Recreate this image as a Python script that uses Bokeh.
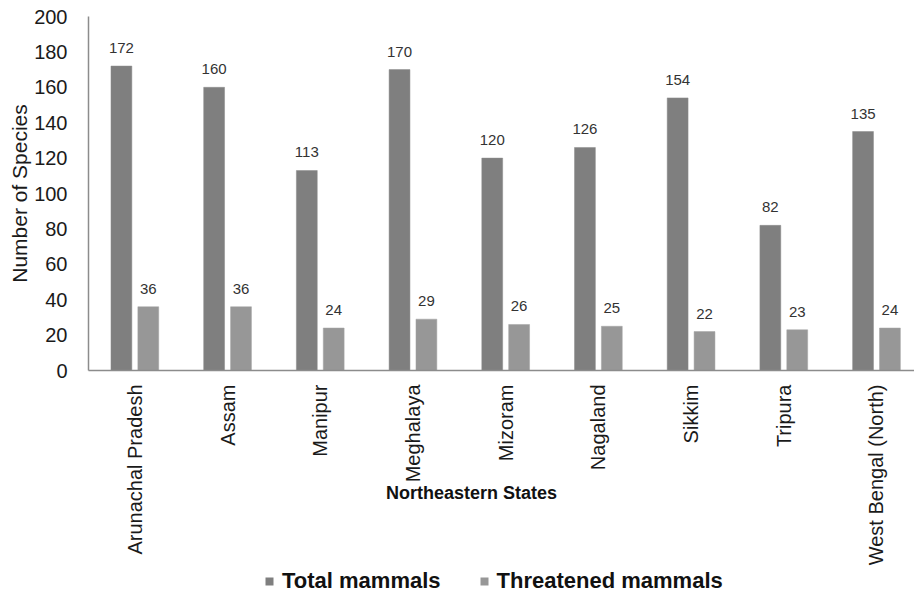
import math
from bokeh.plotting import figure
from bokeh.layouts import column
from bokeh.models import (Range1d, FixedTicker, Legend, LegendItem,
                          ColumnDataSource)
from bokeh.core.properties import value
from bokeh.embed import file_html
from bokeh.resources import INLINE

states = ["Arunachal Pradesh", "Assam", "Manipur", "Meghalaya", "Mizoram",
          "Nagaland", "Sikkim", "Tripura", "West Bengal (North)"]
total_mammals = [172, 160, 113, 170, 120, 126, 154, 82, 135]
threatened_mammals = [36, 36, 24, 29, 26, 25, 22, 23, 24]
y_ticks = [0, 20, 40, 60, 80, 100, 120, 140, 160, 180, 200]

FONT = "Liberation Sans"
C_TOTAL = "#7f7f7f"
C_THREAT = "#979797"
idx = list(range(len(states)))
off = 0.145
bw = 0.225

src_t = ColumnDataSource(dict(x=[i - off for i in idx], top=total_mammals,
                              lab=[str(v) for v in total_mammals]))
src_h = ColumnDataSource(dict(x=[i + off for i in idx], top=threatened_mammals,
                              lab=[str(v) for v in threatened_mammals]))

p = figure(frame_width=826, frame_height=354, output_backend="svg",
           toolbar_location=None, x_range=Range1d(-0.5, 8.41),
           y_range=Range1d(0, 200), min_border_left=88, min_border_top=16,
           min_border_right=0, min_border_bottom=196)
p.outline_line_color = None
p.grid.visible = False

p.vbar(x="x", top="top", width=bw, source=src_t, fill_color=C_TOTAL,
       line_color="#8a8a8a", line_width=0.5)
p.vbar(x="x", top="top", width=bw, source=src_h, fill_color=C_THREAT,
       line_color="#a2a2a2", line_width=0.5)

for s in (src_t, src_h):
    p.text(x="x", y="top", text="lab", source=s, text_align="center",
           text_baseline="alphabetic", y_offset=-18, text_font=value(FONT),
           text_font_size="15px", text_color="#333333")

# axes
p.yaxis.ticker = FixedTicker(ticks=y_ticks)
p.yaxis.axis_label = "Number of Species"
p.yaxis.axis_label_text_font = FONT
p.yaxis.axis_label_text_font_style = "normal"
p.yaxis.axis_label_text_font_size = "21px"
p.yaxis.axis_label_text_color = "#1a1a1a"
p.yaxis.axis_label_standoff = 0
p.yaxis.major_label_text_font = FONT
p.yaxis.major_label_text_font_size = "20px"
p.yaxis.major_label_text_color = "#1a1a1a"
p.yaxis.major_label_standoff = 15
p.yaxis.major_tick_line_color = None
p.yaxis.minor_tick_line_color = None
p.yaxis.axis_line_color = "#8c8c8c"
p.yaxis.axis_line_width = 1.5

p.xaxis.ticker = FixedTicker(ticks=idx)
p.xaxis.major_label_overrides = {i: s for i, s in zip(idx, states)}
p.xaxis.major_label_orientation = math.pi / 2
p.xaxis.major_label_text_font = FONT
p.xaxis.major_label_text_font_size = "20px"
p.xaxis.major_label_text_color = "#1a1a1a"
p.xaxis.major_label_standoff = 8
p.xaxis.major_tick_line_color = None
p.xaxis.minor_tick_line_color = None
p.xaxis.axis_line_color = "#8c8c8c"
p.xaxis.axis_line_width = 1.5
p.xaxis.axis_label = "Northeastern States" + "\u00a0" * 12
p.xaxis.axis_label_text_font = FONT
p.xaxis.axis_label_text_font_style = "bold"
p.xaxis.axis_label_text_font_size = "18px"
p.xaxis.axis_label_text_color = "#111111"
p.xaxis.axis_label_standoff = -85

# legend strip
lf = figure(width=914, height=30, output_backend="svg", toolbar_location=None,
            x_range=Range1d(0, 1), y_range=Range1d(0, 1), min_border=0,
            x_axis_location=None, y_axis_location=None)
lf.grid.visible = False
lf.outline_line_color = None
g1 = lf.vbar(x=[-5], top=[0], width=0.1, fill_color=C_TOTAL, line_color=None)
g2 = lf.vbar(x=[-5], top=[0], width=0.1, fill_color=C_THREAT, line_color=None)
legend = Legend(items=[LegendItem(label="Total mammals", renderers=[g1]),
                       LegendItem(label="Threatened mammals", renderers=[g2])],
                orientation="horizontal", location=(176, 2))
legend.label_text_font = FONT
legend.label_text_font_style = "bold"
legend.label_text_font_size = "22px"
legend.label_text_color = "#111111"
legend.glyph_width = 10
legend.glyph_height = 10
legend.label_standoff = 8
legend.spacing = 38
legend.padding = 0
legend.margin = 0
legend.border_line_color = None
legend.background_fill_alpha = 0
lf.add_layout(legend, "center")

layout = column(p, lf, spacing=0)
open("out.html", "w").write(file_html(layout, INLINE))
